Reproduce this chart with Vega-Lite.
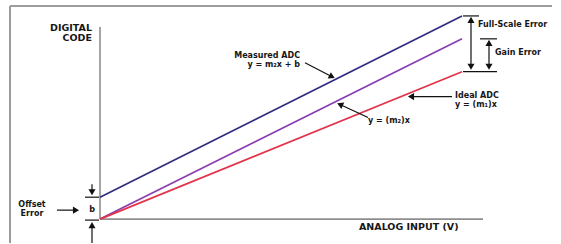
{
  "$schema": "https://vega.github.io/schema/vega-lite/v6.json",
  "width": 561,
  "height": 244,
  "padding": 0,
  "autosize": {"type": "fit", "contains": "padding"},
  "background": "white",
  "config": {"view": {"stroke": null}},
  "datasets": {
    "lines": [
      {"series": "Measured ADC", "input": 0, "code": 22},
      {"series": "Measured ADC", "input": 362, "code": 204},
      {"series": "y = (m₂)x", "input": 0, "code": 0},
      {"series": "y = (m₂)x", "input": 362, "code": 181},
      {"series": "Ideal ADC", "input": 0, "code": 0},
      {"series": "Ideal ADC", "input": 362, "code": 148}
    ],
    "frame": [
      {"x": -90, "y": 214, "x2": -90, "y2": -24},
      {"x": -90, "y": 214, "x2": 452, "y2": 214}
    ],
    "axes": [
      {"x": 0, "y": 193, "x2": 0, "y2": 0},
      {"x": 0, "y": 0, "x2": 383, "y2": 0}
    ],
    "pointers": [
      {"x": 205, "y": 157, "x2": 232, "y2": 143},
      {"x": 268, "y": 102, "x2": 240, "y2": 115},
      {"x": 352, "y": 123, "x2": 311, "y2": 123},
      {"x": -43, "y": 9, "x2": -24, "y2": 9},
      {"x": 371, "y": 200, "x2": 371, "y2": 153},
      {"x": 389, "y": 177, "x2": 389, "y2": 153},
      {"x": 363, "y": 204, "x2": 379, "y2": 204},
      {"x": 380, "y": 181, "x2": 397, "y2": 181},
      {"x": 363, "y": 148, "x2": 397, "y2": 148},
      {"x": -8, "y": 35, "x2": -8, "y2": 27},
      {"x": -15, "y": 22, "x2": -1, "y2": 22},
      {"x": -15, "y": -1, "x2": -1, "y2": -1},
      {"x": -8, "y": -6, "x2": -8, "y2": -24}
    ],
    "heads": [
      {"x": 232, "y": 143, "heading": 27},
      {"x": 240, "y": 115, "heading": 204},
      {"x": 311, "y": 123, "heading": 180},
      {"x": -24, "y": 9, "heading": 0},
      {"x": 371, "y": 200, "heading": 270},
      {"x": 371, "y": 153, "heading": 90},
      {"x": 389, "y": 177, "heading": 270},
      {"x": 389, "y": 153, "heading": 90},
      {"x": -8, "y": 27, "heading": 90},
      {"x": -8, "y": -6, "heading": 270}
    ],
    "rightText": [
      {"text": "DIGITAL", "x": -8, "y": 192, "role": "axis"},
      {"text": "CODE", "x": -8, "y": 182, "role": "axis"},
      {"text": "Measured ADC", "x": 200, "y": 164, "role": "note"},
      {"text": "y = m₂x + b", "x": 200, "y": 155, "role": "note"}
    ],
    "leftText": [
      {"text": "ANALOG INPUT (V)", "x": 259, "y": -8, "role": "axis"},
      {"text": "y = (m₂)x", "x": 268, "y": 99, "role": "note"},
      {"text": "Ideal ADC", "x": 355, "y": 124, "role": "note"},
      {"text": "y = (m₁)x", "x": 355, "y": 115, "role": "note"},
      {"text": "Full-Scale Error", "x": 378, "y": 195, "role": "note"},
      {"text": "Gain Error", "x": 395, "y": 167, "role": "note"}
    ],
    "centerText": [
      {"text": "Offset", "x": -68, "y": 14, "role": "note"},
      {"text": "Error", "x": -68, "y": 5, "role": "note"},
      {"text": "b", "x": -8, "y": 9, "role": "note"}
    ]
  },
  "layer": [
    {
      "data": {"name": "frame"},
      "mark": {"type": "rule", "color": "#9c9c9c", "strokeWidth": 2},
      "encoding": {
        "x": {"field": "x", "type": "quantitative", "scale": {"domain": [-100, 461], "nice": false, "zero": false}, "axis": null},
        "y": {"field": "y", "type": "quantitative", "scale": {"domain": [-24, 220], "nice": false, "zero": false}, "axis": null},
        "x2": {"field": "x2"},
        "y2": {"field": "y2"}
      }
    },
    {
      "data": {"name": "axes"},
      "mark": {"type": "rule", "color": "#8e8e8e", "strokeWidth": 1.6},
      "encoding": {
        "x": {"field": "x", "type": "quantitative", "axis": null},
        "y": {"field": "y", "type": "quantitative", "axis": null},
        "x2": {"field": "x2"},
        "y2": {"field": "y2"}
      }
    },
    {
      "data": {"name": "lines"},
      "mark": {"type": "line", "strokeWidth": 1.7},
      "encoding": {
        "x": {"field": "input", "type": "quantitative", "axis": null},
        "y": {"field": "code", "type": "quantitative", "axis": null},
        "color": {"field": "series", "type": "nominal", "legend": null,
          "scale": {"domain": ["Measured ADC", "y = (m₂)x", "Ideal ADC"], "range": ["#2e2e7e", "#8a3cb2", "#e2334a"]}}
      }
    },
    {
      "data": {"name": "pointers"},
      "mark": {"type": "rule", "color": "#111111", "strokeWidth": 1.2},
      "encoding": {
        "x": {"field": "x", "type": "quantitative", "axis": null},
        "y": {"field": "y", "type": "quantitative", "axis": null},
        "x2": {"field": "x2"},
        "y2": {"field": "y2"}
      }
    },
    {
      "data": {"name": "heads"},
      "mark": {"type": "point", "shape": "triangle-right", "filled": true, "color": "#111111", "opacity": 1, "size": 50},
      "encoding": {
        "x": {"field": "x", "type": "quantitative", "axis": null},
        "y": {"field": "y", "type": "quantitative", "axis": null},
        "angle": {"field": "heading", "type": "quantitative", "scale": {"domain": [0, 360], "range": [0, 360]}, "legend": null}
      }
    },
    {
      "data": {"name": "rightText"},
      "mark": {"type": "text", "align": "right", "baseline": "middle", "font": "DejaVu Sans", "fontWeight": "bold", "color": "#161616"},
      "encoding": {
        "x": {"field": "x", "type": "quantitative", "axis": null},
        "y": {"field": "y", "type": "quantitative", "axis": null},
        "text": {"field": "text"},
        "size": {"field": "role", "type": "nominal", "legend": null, "scale": {"domain": ["axis", "note"], "range": [9.5, 8]}}
      }
    },
    {
      "data": {"name": "leftText"},
      "mark": {"type": "text", "align": "left", "baseline": "middle", "font": "DejaVu Sans", "fontWeight": "bold", "color": "#161616"},
      "encoding": {
        "x": {"field": "x", "type": "quantitative", "axis": null},
        "y": {"field": "y", "type": "quantitative", "axis": null},
        "text": {"field": "text"},
        "size": {"field": "role", "type": "nominal", "legend": null, "scale": {"domain": ["axis", "note"], "range": [9.5, 8]}}
      }
    },
    {
      "data": {"name": "centerText"},
      "mark": {"type": "text", "align": "center", "baseline": "middle", "font": "DejaVu Sans", "fontWeight": "bold", "color": "#161616"},
      "encoding": {
        "x": {"field": "x", "type": "quantitative", "axis": null},
        "y": {"field": "y", "type": "quantitative", "axis": null},
        "text": {"field": "text"},
        "size": {"field": "role", "type": "nominal", "legend": null, "scale": {"domain": ["axis", "note"], "range": [9.5, 8]}}
      }
    }
  ]
}
